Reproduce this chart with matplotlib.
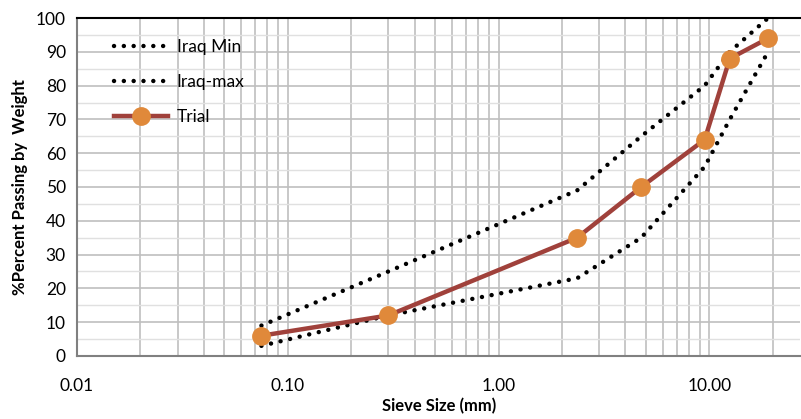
import matplotlib.pyplot as plt
from matplotlib.ticker import FixedLocator, FuncFormatter, LogLocator, MultipleLocator

plt.rcParams['font.family'] = ['Lato', 'DejaVu Sans']

sieve = [0.075, 0.3, 2.36, 4.75, 9.5, 12.5, 19]
iraq_min = [3, 12, 23, 35, 56, 70, 90]
iraq_max = [9, 25, 49, 65, 80, 90, 100]
trial = [6, 12, 35, 50, 64, 88, 94]

fig = plt.figure(figsize=(8.01, 4.19), dpi=100)
ax = fig.add_axes([0.0961, 0.1504, 0.903, 0.8066])

dots = dict(color='black', linewidth=3.2, linestyle=(0, (0.01, 2.2)),
            dash_capstyle='round')
ax.plot(sieve, iraq_min, label='Iraq Min', **dots)
ax.plot(sieve, iraq_max, label='Iraq-max', **dots)
ax.plot(sieve, trial, color='#A0413B', linewidth=3.2, marker='o',
        markersize=12.5, markerfacecolor='#E0893A', markeredgecolor='#E0893A',
        label='Trial')

ax.set_xscale('log')
ax.set_xlim(0.01, 27)
ax.set_ylim(0, 100)

ax.xaxis.set_major_locator(FixedLocator([0.01, 0.1, 1, 10]))
ax.xaxis.set_major_formatter(FuncFormatter(lambda v, p: f'{v:.2f}'))
ax.xaxis.set_minor_locator(LogLocator(base=10, subs=range(2, 10)))
ax.xaxis.set_minor_formatter(FuncFormatter(lambda v, p: ''))
ax.yaxis.set_major_locator(MultipleLocator(10))
ax.yaxis.set_minor_locator(MultipleLocator(5))

ax.grid(which='major', axis='both', color='#BFBFBF', linewidth=1.2)
ax.grid(which='minor', axis='x', color='#BFBFBF', linewidth=1.2)
ax.grid(which='minor', axis='y', color='#E0E0E0', linewidth=1.0)
ax.set_axisbelow(True)

ax.tick_params(which='both', length=0, labelsize=12.5, pad=8)
ax.tick_params(axis='x', pad=16)
for s in ['left', 'bottom']:
    ax.spines[s].set_color('#808080')
    ax.spines[s].set_linewidth(1.5)
ax.spines['top'].set_color('black')
ax.spines['top'].set_linewidth(1.5)
ax.spines['right'].set_visible(False)

ax.set_xlabel('Sieve Size (mm)', fontsize=12, fontweight='bold', labelpad=3)
ax.set_ylabel('%Percent Passing by  Weight', fontsize=12, fontweight='bold',
              labelpad=6)

ax.legend(loc='upper left', bbox_to_anchor=(0.03, 0.985), frameon=False,
          fontsize=12.5, handlelength=3.1, handletextpad=0.5, labelspacing=1.1)

fig.savefig('out.png', dpi=100)
